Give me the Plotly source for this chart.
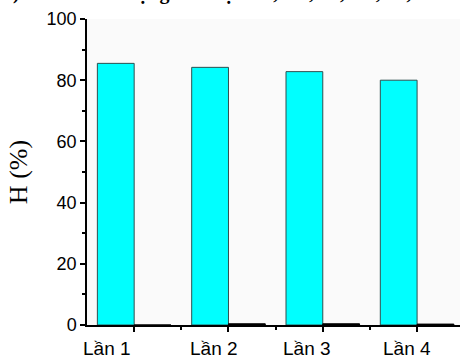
import plotly.graph_objects as go

# Data
categories = ["Lần 1", "Lần 2", "Lần 3", "Lần 4"]
h_values = [85.5, 84.2, 82.8, 80.0]
residual_values = [0.0, 0.4, 0.4, 0.3]
label_shifts = [-27, -14, -16, -10]
y_ticks = [0, 20, 40, 60, 80, 100]
caption = "b) ĐHĐ tái sử dụng lần lượt: 85,5%; 84,2%; 82,8% và 80,0%"

x_pos = list(range(1, len(categories) + 1))

fig = go.Figure()
fig.add_trace(go.Bar(
    x=x_pos, y=h_values,
    marker=dict(color="#00ffff", line=dict(color="#2f4f4f", width=1)),
    showlegend=False,
))
fig.add_trace(go.Bar(
    x=x_pos, y=residual_values,
    marker=dict(color="black", line=dict(color="black", width=1)),
    showlegend=False,
))

# category labels under the axis
for xi, name, dx in zip(x_pos, categories, label_shifts):
    fig.add_annotation(
        x=xi, y=0, xref="x", yref="paper", text=name, showarrow=False,
        xanchor="center", yanchor="top", yshift=-11, xshift=dx,
        font=dict(family="Liberation Sans, Arial", size=19, color="black"),
    )

# caption line above the figure
fig.add_annotation(
    x=0, y=1, xref="paper", yref="paper", text=caption, showarrow=False,
    xanchor="left", yanchor="bottom", xshift=-87, yshift=13,
    font=dict(family="Liberation Serif, Times New Roman", size=20, color="black",
              weight="bold"),
)

fig.update_layout(
    width=460, height=360,
    margin=dict(l=87, r=0, t=19, b=35),
    paper_bgcolor="white",
    plot_bgcolor="#fafafa",
    barmode="group",
    bargap=0.22,
    bargroupgap=0,
    xaxis=dict(
        range=[0.5, 4.455],
        tickvals=x_pos, ticktext=["" for _ in x_pos],
        ticks="outside", ticklen=5, tickwidth=1.5, tickcolor="black",
        minor=dict(tickvals=[1.5, 2.5, 3.5], ticks="outside", ticklen=3,
                   tickwidth=1.5, tickcolor="black"),
        showline=True, linecolor="black", linewidth=1.5,
        showgrid=False, zeroline=False,
    ),
    yaxis=dict(
        range=[0, 100],
        tickvals=y_ticks,
        ticks="outside", ticklen=5, tickwidth=1.5, tickcolor="black",
        minor=dict(dtick=10, ticks="outside", ticklen=3, tickwidth=1.5,
                   tickcolor="black", showgrid=False),
        tickfont=dict(family="Liberation Sans, Arial", size=18, color="black"),
        showline=True, linecolor="black", linewidth=1.5,
        showgrid=False, zeroline=False,
        title=dict(text="H (%)", standoff=12,
                   font=dict(family="Liberation Serif, Times New Roman", size=26,
                             color="black")),
    ),
)

fig.write_html("out.html")
